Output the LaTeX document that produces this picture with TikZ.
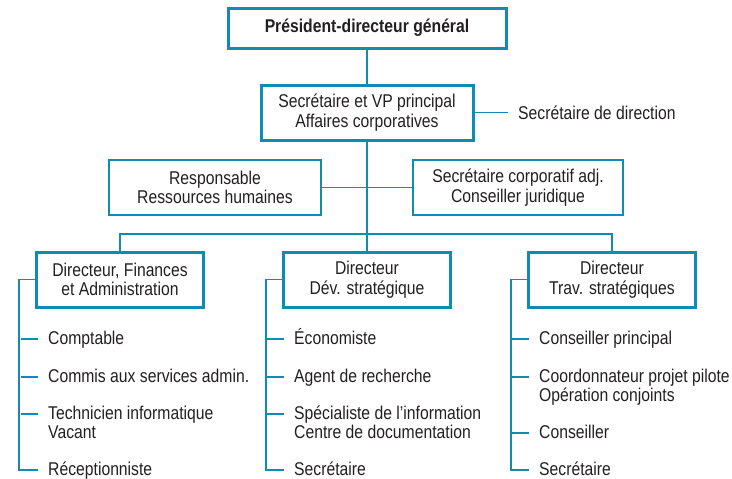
\documentclass[tikz,border=0pt]{standalone}
\usepackage{fontspec}
\setmainfont[FakeStretch=0.85]{Liberation Sans}
\definecolor{orgblue}{RGB}{16,140,178}
\definecolor{orgtext}{RGB}{35,31,32}

\begin{document}
\begin{tikzpicture}[x=1pt, y=-1pt,
  every node/.style={text=orgtext, font=\fontsize{18.5}{19.5}\selectfont},
  headbox/.style={draw=orgblue, line width=3pt, align=center, minimum height=55pt},
  staffbox/.style={draw=orgblue, line width=1.5pt, align=center, minimum height=55pt},
  post/.style={anchor=base west, inner xsep=10pt, align=left},
  link/.style={draw=orgblue, line width=1.5pt}]
  \useasboundingbox (0,0) rectangle (732,479);

  % top of the chart
  \node [headbox, minimum width=278pt, minimum height=40pt] (pdg) at (367, 28)
    {\bfseries Président-directeur général};
  \node [headbox, minimum width=212pt] (vp) at (367, 112.5)
    {Secrétaire et VP principal\\Affaires corporatives};
  \node [anchor=west, inner xsep=10pt] (secdir) at (508, 112.5) {Secrétaire de direction};
  \draw [link] (pdg) -- (vp);
  \draw [link] (vp) -- (secdir);

  % staff boxes
  \node [staffbox, minimum width=212pt] (resp) at (215, 187.5)
    {Responsable\\Ressources humaines};
  \node [staffbox, minimum width=210pt] (corp) at (518, 187.5)
    {Secrétaire corporatif adj.\\Conseiller juridique};
  \draw [link] (resp) -- (corp);

  % directors
  \coordinate (bus) at (367, 234);
  \node [headbox, minimum width=167pt] (fin) at (120, 279.5)
    {Directeur, Finances\\et Administration};
  \node [headbox, minimum width=167pt] (dev) at (367, 279.5)
    {Directeur\\Dév. stratégique};
  \node [headbox, minimum width=167pt] (trav) at (612, 279.5)
    {Directeur\\Trav. stratégiques};
  \draw [link] (vp) -- (bus);
  \draw [link] (fin.north) |- (bus) -| (trav.north);
  \draw [link] (bus) -- (dev);

  % Finances et Administration (base = last line)
  \node [post] (f1) at (38, 344) {Comptable};
  \node [post] (f2) at (38, 382) {Commis aux services admin.};
  \node [post] (f3) at (38, 438.5) {Technicien informatique\\Vacant};
  \node [post] (f4) at (38, 475) {Réceptionniste};

  % Dev. strategique
  \node [post] (d1) at (284, 344) {Économiste};
  \node [post] (d2) at (284, 382) {Agent de recherche};
  \node [post] (d3) at (284, 438.5) {Spécialiste de l’information\\Centre de documentation};
  \node [post] (d4) at (284, 475) {Secrétaire};

  % Trav. strategiques
  \node [post] (t1) at (529, 344) {Conseiller principal};
  \node [post] (t2) at (529, 401.5) {Coordonnateur projet pilote\\Opération conjoints};
  \node [post] (t3) at (529, 438) {Conseiller};
  \node [post] (t4) at (529, 475) {Secrétaire};

  \draw [link] (fin.west) -- ++(-16,0) |- ([yshift=5pt]f4.base west);
  \draw [link] (dev.west) -- ++(-16,0) |- ([yshift=5pt]d4.base west);
  \draw [link] (trav.west) -- ++(-16,0) |- ([yshift=5pt]t4.base west);
  \foreach \p/\s in {f1/5,f2/5,f3/24.5,d1/5,d2/5,d3/24.5,t1/5,t2/24.5,t3/5}
    \draw [link] ([yshift=\s pt]\p.base west) -- ++(-17,0);
\end{tikzpicture}
\end{document}
